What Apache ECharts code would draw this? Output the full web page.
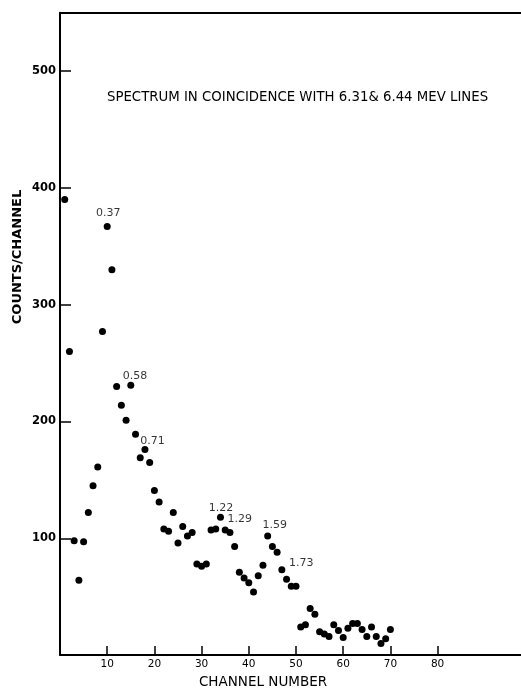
<!DOCTYPE html>
<html>
<head>
<meta charset="utf-8">
<script src="https://cdn.jsdelivr.net/npm/echarts@6/dist/echarts.min.js"></script>
<style>
html,body{margin:0;padding:0;background:#fff;}
#chart{width:521px;height:694px;}
</style>
</head>
<body>
<div id="chart"></div>
<script>
// Channel numbers and counts per channel
const channels = [1,2,3,4,5,6,7,8,9,10,11,12,13,14,15,16,17,18,19,20,
  21,22,23,24,25,26,27,28,29,30,31,32,33,34,35,36,37,38,39,40,
  41,42,43,44,45,46,47,48,49,50,51,52,53,54,55,56,57,58,59,60,
  61,62,63,64,65,66,67,68,69,70];
const counts = [390,260,98,64,97,122,145,161,277,367,330,230,214,201,231,189,169,176,165,141,
  131,108,106,122,96,110,102,105,78,76,78,107,108,118,107,105,93,71,66,62,
  54,68,77,102,93,88,73,65,59,59,24,26,40,35,20,18,16,26,21,15,
  23,27,27,22,16,24,16,10,14,22];

// Peak energy annotations (MeV) and their positions in data coordinates
const peakLabels = ['0.37','0.58','0.71','1.22','1.29','1.59','1.73'];
const peakX = [10.2, 15.9, 19.6, 34.1, 38.1, 45.5, 51.1];
const peakY = [378, 239, 183, 126, 116, 111, 79];

const xTicks = [10,20,30,40,50,60,70,80];
const yTicks = [100,200,300,400,500];

const titleText = 'SPECTRUM IN COINCIDENCE WITH 6.31& 6.44 MEV LINES';
const xName = 'CHANNEL NUMBER';
const yName = 'COUNTS/CHANNEL';

const font = 'DejaVu Sans';
const chart = echarts.init(document.getElementById('chart'), null, {renderer:'canvas'});

const option = {
  backgroundColor: '#fff',
  animation: false,
  title: {
    text: titleText,
    left: 107, top: 91, padding: 0,
    textStyle: {fontFamily: font, fontSize: 13.3, fontWeight: 'normal', color: '#000'}
  },
  grid: {left: 60, right: 0, top: 12.7, bottom: 31, containLabel: false},
  xAxis: [{
    type: 'value', min: 0, max: 97.67, position: 'bottom',
    name: xName, nameLocation: 'middle', nameGap: 19,
    nameTextStyle: {fontFamily: font, fontSize: 13.5, color: '#000', padding: [0,55,0,0]},
    axisLine: {show: true, onZero: false, lineStyle: {color: '#000', width: 2}},
    axisTick: {show: true, inside: true, length: 9, customValues: xTicks, lineStyle: {color: '#000', width: 1.5}},
    axisLabel: {show: true, margin: 4, customValues: xTicks, fontFamily: font, fontSize: 10.5, color: '#000'},
    splitLine: {show: false}
  },{
    type: 'value', min: 0, max: 97.67, position: 'top',
    axisLine: {show: true, onZero: false, lineStyle: {color: '#000', width: 2}},
    axisTick: {show: false}, axisLabel: {show: false}, splitLine: {show: false}
  }],
  yAxis: {
    type: 'value', min: 0, max: 550,
    axisLine: {show: true, onZero: false, lineStyle: {color: '#000', width: 2}},
    axisTick: {show: true, inside: true, length: 11, customValues: yTicks, lineStyle: {color: '#000', width: 1.5}},
    axisLabel: {show: true, margin: 4, customValues: yTicks, fontFamily: font, fontSize: 11.5, fontWeight: 'bold', color: '#000'},
    splitLine: {show: false}
  },
  graphic: [{
    type: 'text',
    x: 18, y: 257, rotation: Math.PI/2,
    style: {text: yName, fontFamily: font, fontSize: 13, fontWeight: 'bold', fill: '#000', align: 'center', verticalAlign: 'middle'}
  }],
  series: [{
    type: 'scatter',
    symbol: 'circle', symbolSize: 7,
    itemStyle: {color: '#000', opacity: 1},
    data: channels.map((c,i) => [c, counts[i]])
  },{
    type: 'scatter',
    symbolSize: 0,
    silent: true,
    label: {show: true, position: 'inside', formatter: p => p.value[2],
      fontFamily: font, fontSize: 11, color: '#000'},
    data: peakLabels.map((t,i) => [peakX[i], peakY[i], t])
  }]
};
chart.setOption(option);
</script>
</body>
</html>
